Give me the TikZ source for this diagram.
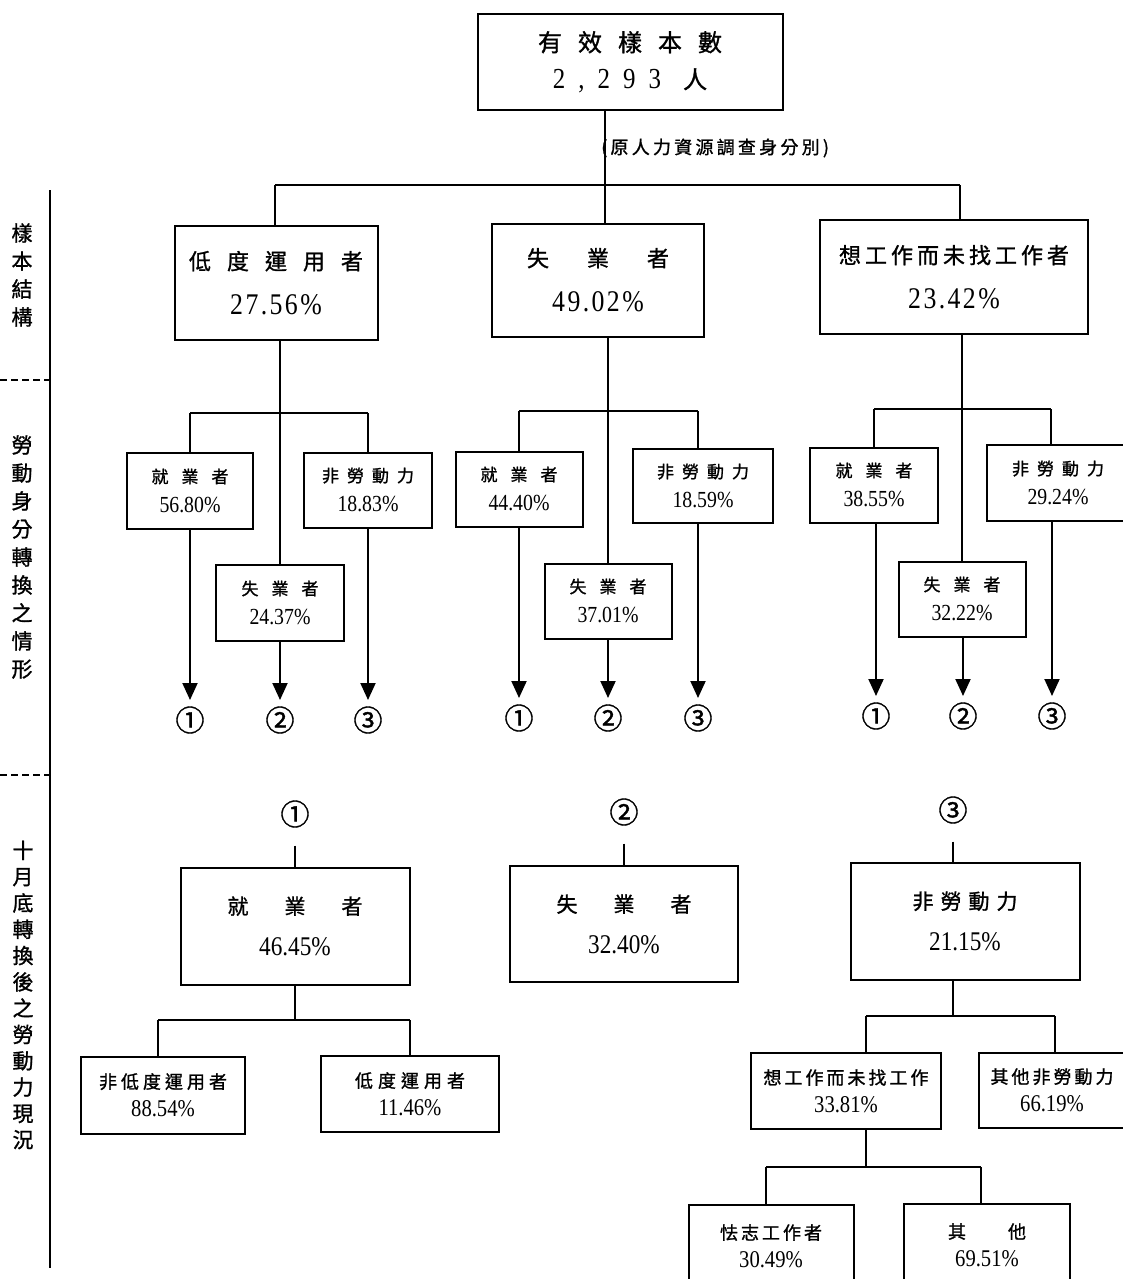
\documentclass[tikz,border=0pt]{standalone}
\usepackage{fontspec}
\setmainfont{Liberation Serif}[FakeStretch=0.86]
\newfontfamily\cjk{Noto Sans CJK TC}[FakeBold=1.2]
\usetikzlibrary{arrows.meta}
\newcommand\hs[1]{\hspace{#1pt}}
\newcommand\fs[2]{\fontsize{#1}{#2}\selectfont}
\begin{document}
\begin{tikzpicture}[x=1pt,y=-1pt,
  box/.style={draw, line width=2pt, inner sep=0pt, align=center},
  topbox/.style={box, font=\fs{24}{37}},
  mainbox/.style={box, font=\fs{22}{45}},
  smallbox/.style={box, font=\fs{17}{30}},
  botbox/.style={box, font=\fs{21}{41}},
  leafbox/.style={box, font=\fs{18}{28}},
  wire/.style={line width=2pt},
  arr/.style={wire, -{Triangle[width=15pt,length=17pt]}, shorten >=20pt},
  circ/.style={inner sep=0pt, font=\cjk\fs{29}{29}},
  side/.style={inner sep=0pt, align=center, font=\cjk\fs{21}{28}},
]
\useasboundingbox (0,0) rectangle (1122,1279);

% left column
\coordinate (lt) at (50,190);
\coordinate (lb) at (50,1268);
\draw[line width=1.5pt] (lt) -- (lb);
\coordinate (d1a) at (0,380);
\coordinate (d1b) at (50,380);
\coordinate (d2a) at (0,775);
\coordinate (d2b) at (50,775);
\draw[line width=1.2pt, dash pattern=on 7pt off 4pt] (d1a) -- (d1b);
\draw[line width=1.2pt, dash pattern=on 7pt off 4pt] (d2a) -- (d2b);
\node[side] (s1) at (22,275) {樣\\本\\結\\構};
\node[side] (s2) at (22,557) {勞\\動\\身\\分\\轉\\換\\之\\情\\形};
\node[side, font=\cjk\fs{21}{26.3}] (s3) at (23,995) {十\\月\\底\\轉\\換\\後\\之\\勞\\動\\力\\現\\況};

% top
\node[topbox, minimum width=305pt, minimum height=96pt] (top) at (630,62)
  {{\cjk 有\hs{16}效\hs{16}樣\hs{16}本\hs{16}數}\\{\fs{29}{37}\addfontfeature{LetterSpace=45}2,293}\hs{22}{\cjk 人}};
\coordinate (hub) at (605,185);
\coordinate (hubL) at (275,185);
\coordinate (hubR) at (960,185);
\draw[wire] (top.south -| hub) -- (hub);
\node[anchor=west, inner sep=0pt, font=\cjk\fs{18}{18}\addfontfeature{LetterSpace=18}] (orig) at (601,148) {(原人力資源調查身分別)};
\draw[wire] (hubL) -- (hubR);

% first level
\node[mainbox, minimum width=203pt, minimum height=114pt] (A) at (276,283)
  {{\cjk 低\hs{16}度\hs{16}運\hs{16}用\hs{16}者}\\{\fs{30}{45}\addfontfeature{LetterSpace=8}27.56\%}};
\node[mainbox, minimum width=212pt, minimum height=113pt] (B) at (598,280)
  {{\cjk 失\hs{38}業\hs{38}者}\\{\fs{30}{45}\addfontfeature{LetterSpace=8}49.02\%}};
\node[mainbox, minimum width=268pt, minimum height=114pt] (C) at (954,277)
  {{\cjk 想\hs{4}工\hs{4}作\hs{4}而\hs{4}未\hs{4}找\hs{4}工\hs{4}作\hs{4}者}\\{\fs{30}{45}\addfontfeature{LetterSpace=8}23.42\%}};
\draw[wire] (hubL) -- (hubL |- A.north);
\draw[wire] (hub) -- (hub |- B.north);
\draw[wire] (hubR) -- (hubR |- C.north);

% group A
\node[smallbox, minimum width=126pt, minimum height=76pt] (EA) at (190,491)
  {{\cjk 就\hs{13}業\hs{13}者}\\{\fs{23}{30}56.80\%}};
\node[smallbox, minimum width=128pt, minimum height=75pt] (NA) at (368,490)
  {{\cjk 非\hs{8}勞\hs{8}動\hs{8}力}\\{\fs{23}{30}18.83\%}};
\node[smallbox, minimum width=128pt, minimum height=76pt] (UA) at (280,603)
  {{\cjk 失\hs{13}業\hs{13}者}\\{\fs{23}{30}24.37\%}};
\coordinate (aL) at (190,413);
\coordinate (aR) at (368,413);
\draw[wire] (UA.north) -- (UA.north |- A.south);
\draw[wire] (aL) -- (aR);
\draw[wire] (aL) -- (EA.north);
\draw[wire] (aR) -- (NA.north);
\node[circ] (a1) at (190,720) {①};
\node[circ] (a2) at (280,720) {②};
\node[circ] (a3) at (368,720) {③};
\draw[arr] (EA.south) -- (a1.center);
\draw[arr] (UA.south) -- (a2.center);
\draw[arr] (NA.south) -- (a3.center);

% group B
\node[smallbox, minimum width=127pt, minimum height=75pt] (EB) at (519,489)
  {{\cjk 就\hs{13}業\hs{13}者}\\{\fs{23}{30}44.40\%}};
\node[smallbox, minimum width=140pt, minimum height=74pt] (NB) at (703,486)
  {{\cjk 非\hs{8}勞\hs{8}動\hs{8}力}\\{\fs{23}{30}18.59\%}};
\node[smallbox, minimum width=127pt, minimum height=75pt] (UB) at (608,601)
  {{\cjk 失\hs{13}業\hs{13}者}\\{\fs{23}{30}37.01\%}};
\coordinate (bL) at (519,411);
\coordinate (bR) at (698,411);
\draw[wire] (UB.north) -- (UB.north |- B.south);
\draw[wire] (bL) -- (bR);
\draw[wire] (bL) -- (EB.north);
\draw[wire] (bR) -- (bR |- NB.north);
\node[circ] (m1) at (519,718) {①};
\node[circ] (m2) at (608,718) {②};
\node[circ] (m3) at (698,718) {③};
\draw[arr] (EB.south) -- (m1.center);
\draw[arr] (UB.south) -- (m2.center);
\draw[arr] (NB.south -| m3) -- (m3.center);

% group C
\node[smallbox, minimum width=128pt, minimum height=75pt] (EC) at (874,485)
  {{\cjk 就\hs{13}業\hs{13}者}\\{\fs{23}{30}38.55\%}};
\node[smallbox, minimum width=143pt, minimum height=76pt] (NC) at (1058,483)
  {{\cjk 非\hs{8}勞\hs{8}動\hs{8}力}\\{\fs{23}{30}29.24\%}};
\node[smallbox, minimum width=127pt, minimum height=75pt] (UC) at (962,599)
  {{\cjk 失\hs{13}業\hs{13}者}\\{\fs{23}{30}32.22\%}};
\coordinate (cL) at (874,409);
\coordinate (cR) at (1051,409);
\draw[wire] (UC.north) -- (UC.north |- C.south);
\draw[wire] (cL) -- (cR);
\draw[wire] (cL) -- (EC.north);
\draw[wire] (cR) -- (cR |- NC.north);
\node[circ] (r1) at (876,716) {①};
\node[circ] (r2) at (963,716) {②};
\node[circ] (r3) at (1052,716) {③};
\draw[arr] (EC.south -| r1) -- (r1.center);
\draw[arr] (UC.south -| r2) -- (r2.center);
\draw[arr] (NC.south -| r3) -- (r3.center);

% bottom level
\node[botbox, minimum width=229pt, minimum height=117pt] (E2) at (295,926)
  {{\cjk 就\hs{36}業\hs{36}者}\\{\fs{27}{41}46.45\%}};
\node[botbox, minimum width=228pt, minimum height=116pt] (U2) at (624,924)
  {{\cjk 失\hs{36}業\hs{36}者}\\{\fs{27}{41}32.40\%}};
\node[botbox, minimum width=229pt, minimum height=117pt] (N2) at (965,921)
  {{\cjk 非\hs{7}勞\hs{7}動\hs{7}力}\\{\fs{27}{41}21.15\%}};
\node[circ] (b1) at (295,814) {①};
\node[circ] (b2) at (624,812) {②};
\node[circ] (b3) at (953,810) {③};
\draw[wire, shorten <=18pt] (b1) -- (E2.north);
\draw[wire, shorten <=18pt] (b2) -- (U2.north);
\draw[wire, shorten <=18pt] (b3) -- (b3 |- N2.north);

% employed children
\node[leafbox, minimum width=164pt, minimum height=77pt] (L1) at (163,1095)
  {{\cjk 非\hs{4}低\hs{4}度\hs{4}運\hs{4}用\hs{4}者}\\{\fs{24}{28}88.54\%}};
\node[leafbox, minimum width=178pt, minimum height=76pt] (L2) at (410,1094)
  {{\cjk 低\hs{5}度\hs{5}運\hs{5}用\hs{5}者}\\{\fs{24}{28}11.46\%}};
\coordinate (eL) at (158,1020);
\coordinate (eR) at (410,1020);
\draw[wire] (E2.south) -- (E2.south |- eL);
\draw[wire] (eL) -- (eR);
\draw[wire] (eL) -- (eL |- L1.north);
\draw[wire] (eR) -- (L2.north);

% non-labour children
\node[leafbox, minimum width=190pt, minimum height=76pt] (W) at (846,1091)
  {{\cjk 想\hs{3}工\hs{3}作\hs{3}而\hs{3}未\hs{3}找\hs{3}工\hs{3}作}\\{\fs{24}{28}33.81\%}};
\node[leafbox, minimum width=146pt, minimum height=75pt] (O) at (1052,1090)
  {{\cjk 其\hs{3}他\hs{3}非\hs{3}勞\hs{3}動\hs{3}力}\\{\fs{24}{28}66.19\%}};
\coordinate (nL) at (866,1016);
\coordinate (nR) at (1055,1016);
\draw[wire] (N2.south -| b3) -- (b3 |- nL);
\draw[wire] (nL) -- (nR);
\draw[wire] (nL) -- (nL |- W.north);
\draw[wire] (nR) -- (nR |- O.north);

% want-work children
\node[leafbox, minimum width=165pt, minimum height=83pt] (D) at (771,1246)
  {{\cjk 怯\hs{3}志\hs{3}工\hs{3}作\hs{3}者}\\{\fs{24}{28}30.49\%}};
\node[leafbox, minimum width=166pt, minimum height=83pt] (X) at (987,1245)
  {{\cjk 其\hs{42}他}\\{\fs{24}{28}69.51\%}};
\coordinate (wL) at (766,1167);
\coordinate (wR) at (981,1167);
\draw[wire] (W.south -| nL) -- (nL |- wL);
\draw[wire] (wL) -- (wR);
\draw[wire] (wL) -- (wL |- D.north);
\draw[wire] (wR) -- (wR |- X.north);
\end{tikzpicture}
\end{document}
